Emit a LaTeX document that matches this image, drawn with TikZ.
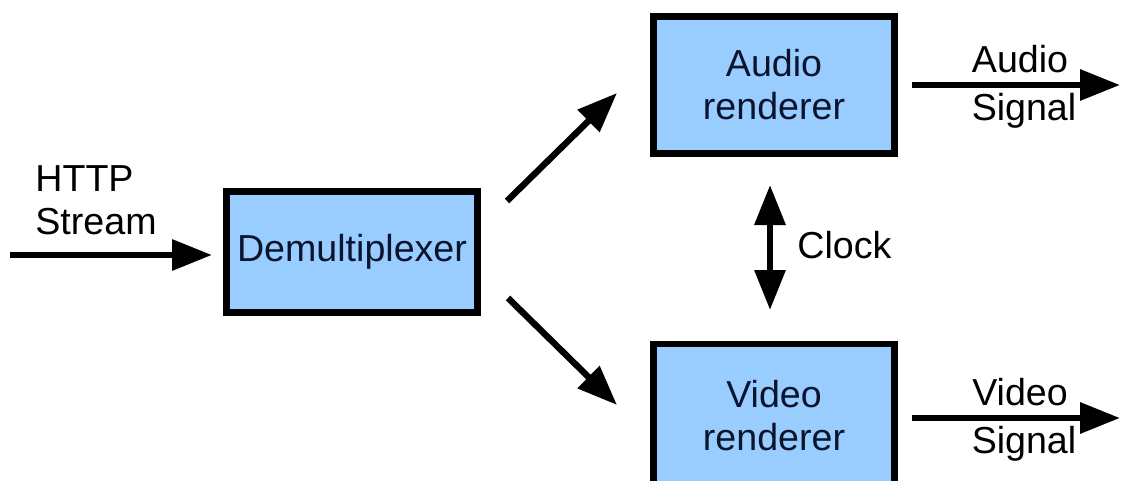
\documentclass[tikz,border=0pt]{standalone}
\usepackage{fontspec}
\setmainfont{Liberation Sans}
\usetikzlibrary{arrows.meta}
\definecolor{boxblue}{RGB}{153,204,255}
\definecolor{boxtext}{RGB}{10,20,45}

\tikzset{
  block/.style={draw=black, line width=3.2pt, fill=boxblue, text=boxtext,
    align=center, minimum width=120.5pt, minimum height=68.5pt, inner sep=0pt},
  flow/.style={line width=3.2pt, -{Triangle[length=20pt,width=15pt]}},
  twoway/.style={line width=3.2pt,
    {Triangle[length=20pt,width=15pt]}-{Triangle[length=20pt,width=15pt]}},
  lbl/.style={align=center, inner sep=0pt}
}

\begin{document}
\begin{tikzpicture}[x=0.5pt,y=-0.5pt,font=\fontsize{18.8}{21.5}\selectfont]
\useasboundingbox (0,0) rectangle (1124,481);
% blocks
\node [block, minimum width=125.5pt, minimum height=60.5pt] (demux) at (352,252) {Demultiplexer};
\node [block] (audio) at (774,85) {Audio\\renderer};
\node [block, minimum height=72pt] (video) at (774,416) {Video\\renderer};
% arrow ends
\coordinate (in) at (10,255);
\coordinate (inend) at (212,255);
\coordinate (upstart) at (507,201);
\coordinate (upend) at (617,93);
\coordinate (downstart) at (508,298);
\coordinate (downend) at (617,405);
\coordinate (clktop) at (770,185);
\coordinate (clkbot) at (770,310);
\coordinate (aout) at (1120,85);
\coordinate (vout) at (1120,418);
% connectors
\draw [flow] (in) -- (inend);
\draw [flow] (upstart) -- (upend);
\draw [flow] (downstart) -- (downend);
\draw [twoway] (clktop) -- (clkbot);
\draw [flow] (audio.east |- aout) ++(14,0) coordinate (astart) -- (aout);
\draw [flow] (video.east |- vout) ++(14,0) coordinate (vstart) -- (vout);
% labels
\node [lbl, anchor=west, align=left] (http) at (35,200) {HTTP\\Stream};
\node [lbl, anchor=west] (clock) at (797,245) {Clock};
\node [lbl, anchor=south] (atop) at (1020,73) {Audio};
\node [lbl, anchor=north] (abot) at (1024,93) {Signal};
\node [lbl, anchor=south] (vtop) at (1020,406) {Video};
\node [lbl, anchor=north] (vbot) at (1024,426) {Signal};
\end{tikzpicture}
\end{document}
